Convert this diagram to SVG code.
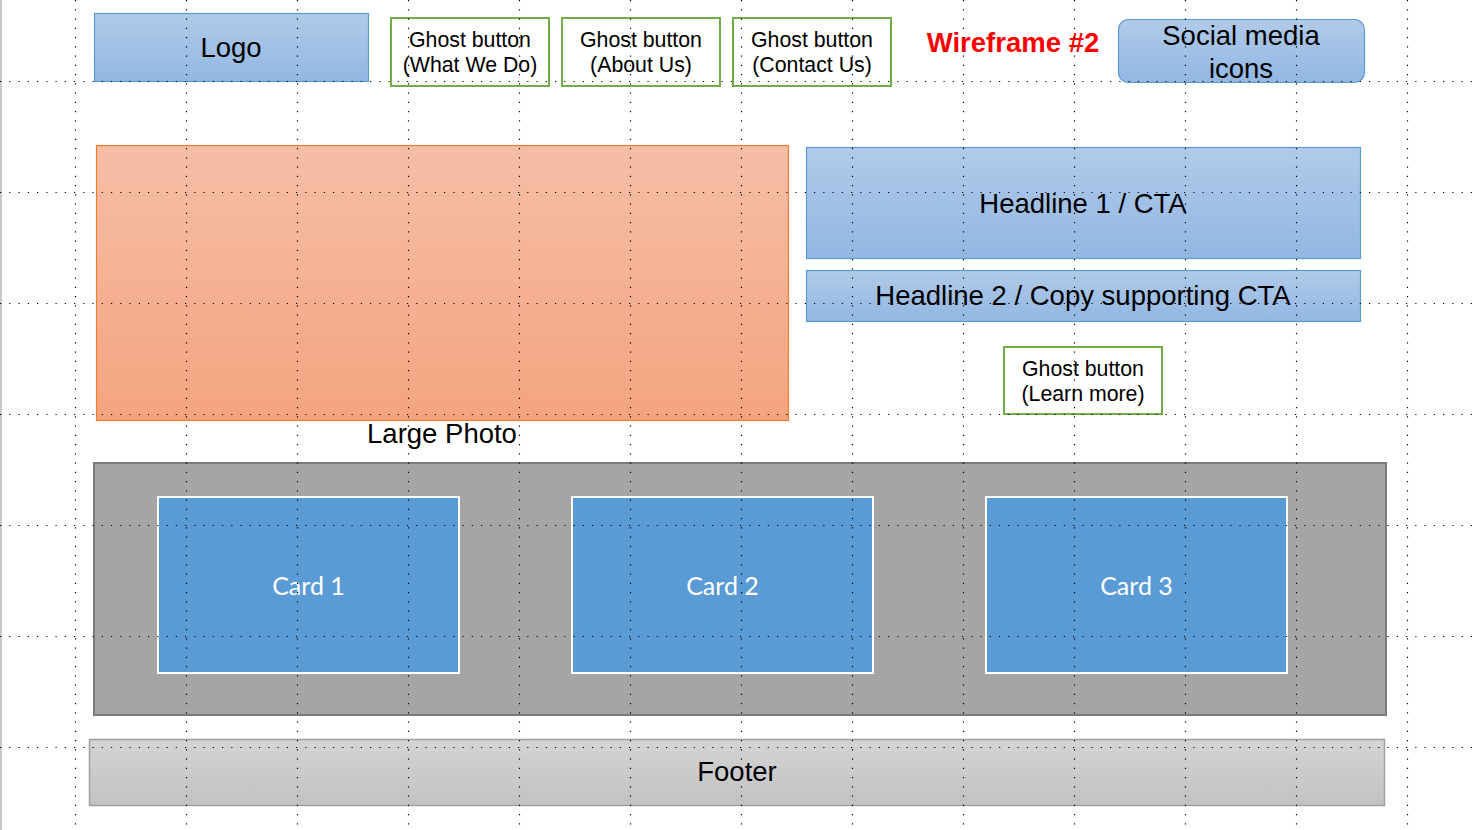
<svg xmlns="http://www.w3.org/2000/svg" width="1477" height="830" viewBox="0 0 1477 830">
  <defs>
    <linearGradient id="gBlue" x1="0" y1="0" x2="0" y2="1">
      <stop offset="0" stop-color="#b1cae9"/>
      <stop offset="1" stop-color="#92b7e2"/>
    </linearGradient>
    <linearGradient id="gOrange" x1="0" y1="0" x2="0" y2="1">
      <stop offset="0" stop-color="#f6bea7"/>
      <stop offset="1" stop-color="#f4a47f"/>
    </linearGradient>
    <linearGradient id="gGrey" x1="0" y1="0" x2="0" y2="1">
      <stop offset="0" stop-color="#d4d4d4"/>
      <stop offset="1" stop-color="#c2c2c2"/>
    </linearGradient>
    <style>
      .txt { font-family: "Liberation Sans", Arial, sans-serif; fill: #000; text-anchor: middle; }
      .big { font-size: 27.5px; }
      .small { font-size: 21.3px; }
      .blue { fill: url(#gBlue); stroke: #5b9bd5; stroke-width: 1.2; }
      .ghost { fill: #fff; stroke: #70ad47; stroke-width: 2; }
      .card { fill: #5b9bd5; stroke: #fff; stroke-width: 2; }
      .cardtxt { font-family: Lato, "Liberation Sans", sans-serif; font-size: 25px; fill: #fff; text-anchor: middle; }
      .grid line { stroke: #000; stroke-width: 1.2; stroke-dasharray: 1.2 8.05; }
    </style>
  </defs>

  <rect x="0" y="0" width="1477" height="830" fill="#fff"/>
  <line x1="1" y1="0" x2="1" y2="830" stroke="#c8c8c8" stroke-width="2"/>

  <g id="logo">
    <rect class="blue" x="94.5" y="13.5" width="274" height="68"/>
    <text class="txt big" x="231" y="57">Logo</text>
  </g>

  <g id="nav-what-we-do">
    <rect class="ghost" x="391" y="18" width="158" height="68"/>
    <text class="txt small" x="470" y="47">Ghost button</text>
    <text class="txt small" x="470" y="72">(What We Do)</text>
  </g>
  <g id="nav-about-us">
    <rect class="ghost" x="562" y="18" width="158" height="68"/>
    <text class="txt small" x="641" y="47">Ghost button</text>
    <text class="txt small" x="641" y="72">(About Us)</text>
  </g>
  <g id="nav-contact-us">
    <rect class="ghost" x="733" y="18" width="158" height="68"/>
    <text class="txt small" x="812" y="47">Ghost button</text>
    <text class="txt small" x="812" y="72">(Contact Us)</text>
  </g>

  <g id="title">
    <text x="1013" y="52" font-family="'Liberation Sans', Arial, sans-serif" font-size="27.5" font-weight="bold" fill="#ff0000" text-anchor="middle">Wireframe #2</text>
  </g>

  <g id="social">
    <rect class="blue" x="1118.5" y="19.5" width="246" height="63" rx="10" ry="10"/>
    <text class="txt big" x="1241" y="45">Social media</text>
    <text class="txt big" x="1241" y="78">icons</text>
  </g>

  <g id="large-photo">
    <rect x="96.5" y="145.5" width="692" height="275" fill="url(#gOrange)" stroke="#ed7d31" stroke-width="1.2"/>
    <text class="txt big" x="442" y="442.5">Large Photo</text>
  </g>

  <g id="headline-1">
    <rect class="blue" x="806.5" y="147.5" width="554" height="111"/>
    <text class="txt big" x="1083" y="212.5">Headline 1 / CTA</text>
  </g>

  <g id="headline-2">
    <rect class="blue" x="806.5" y="270.5" width="554" height="51"/>
    <text class="txt big" x="1083" y="305">Headline 2 / Copy supporting CTA</text>
  </g>

  <g id="learn-more">
    <rect class="ghost" x="1004" y="347" width="158" height="67"/>
    <text class="txt small" x="1083" y="375.5">Ghost button</text>
    <text class="txt small" x="1083" y="401">(Learn more)</text>
  </g>

  <g id="card-strip">
    <rect x="94" y="463" width="1292" height="252" fill="#a5a5a5" stroke="#7a7a7a" stroke-width="2"/>
  </g>
  <g id="card-1">
    <rect class="card" x="158" y="497" width="301" height="176"/>
    <text class="cardtxt" x="308.5" y="595">Card 1</text>
  </g>
  <g id="card-2">
    <rect class="card" x="572" y="497" width="301" height="176"/>
    <text class="cardtxt" x="722.5" y="595">Card 2</text>
  </g>
  <g id="card-3">
    <rect class="card" x="986" y="497" width="301" height="176"/>
    <text class="cardtxt" x="1136.5" y="595">Card 3</text>
  </g>

  <g id="footer">
    <rect x="89.5" y="739.5" width="1295" height="66" fill="url(#gGrey)" stroke="#a0a0a0" stroke-width="1.5"/>
    <text class="txt big" x="737" y="781">Footer</text>
  </g>

  <!-- dotted layout guides drawn over everything -->
  <g class="grid">
    <line x1="75.5" y1="0" x2="75.5" y2="830"/>
    <line x1="186.5" y1="0" x2="186.5" y2="830"/>
    <line x1="297.5" y1="0" x2="297.5" y2="830"/>
    <line x1="408.5" y1="0" x2="408.5" y2="830"/>
    <line x1="519.5" y1="0" x2="519.5" y2="830"/>
    <line x1="630.5" y1="0" x2="630.5" y2="830"/>
    <line x1="741.5" y1="0" x2="741.5" y2="830"/>
    <line x1="852.5" y1="0" x2="852.5" y2="830"/>
    <line x1="963.5" y1="0" x2="963.5" y2="830"/>
    <line x1="1074.5" y1="0" x2="1074.5" y2="830"/>
    <line x1="1185.5" y1="0" x2="1185.5" y2="830"/>
    <line x1="1296.5" y1="0" x2="1296.5" y2="830"/>
    <line x1="1407.5" y1="0" x2="1407.5" y2="830"/>
    <line x1="0" y1="81.5" x2="1477" y2="81.5"/>
    <line x1="0" y1="192.5" x2="1477" y2="192.5"/>
    <line x1="0" y1="303.5" x2="1477" y2="303.5"/>
    <line x1="0" y1="414.5" x2="1477" y2="414.5"/>
    <line x1="0" y1="525.5" x2="1477" y2="525.5"/>
    <line x1="0" y1="636.5" x2="1477" y2="636.5"/>
    <line x1="0" y1="747.5" x2="1477" y2="747.5"/>
  </g>
</svg>
